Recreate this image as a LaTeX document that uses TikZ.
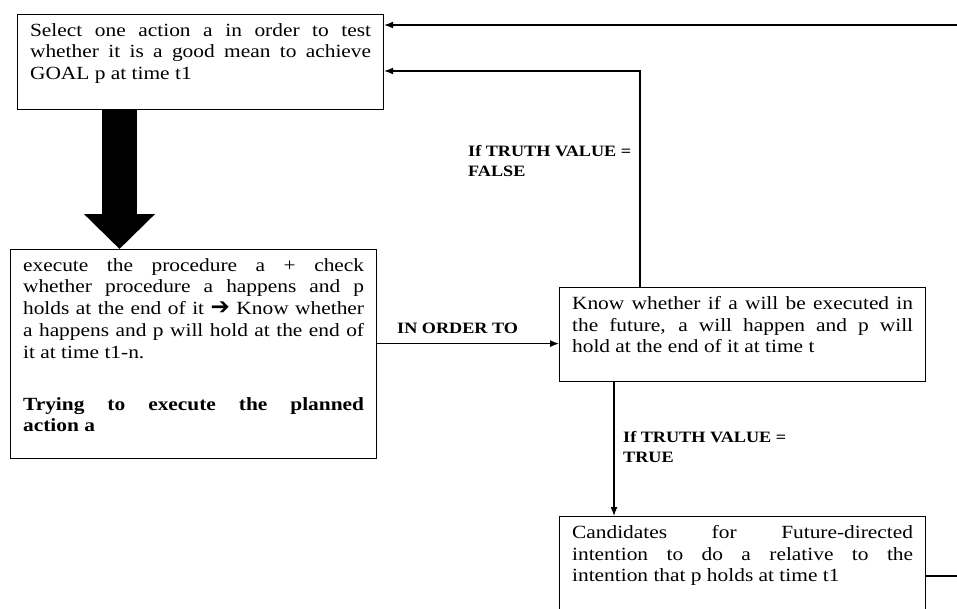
\documentclass[tikz,border=0pt]{standalone}
\usepackage{fontspec}
\setmainfont{Liberation Serif}[FakeStretch=1.15]
\newfontfamily\dingfont{DejaVu Sans}
\usetikzlibrary{arrows.meta}
\newcommand{\boxtext}[2]{\parbox[t][#1][t]{341pt}{\hyphenpenalty=10000\exhyphenpenalty=10000 #2}}
\hbadness=10000

\begin{document}
\begin{tikzpicture}[x=1pt,y=-1pt,
		stepbox/.style={draw,line width=1.2pt,anchor=north west,inner xsep=12.5pt,inner ysep=8.5pt,font=\fontsize{18.6}{21.8}\selectfont},
		cond/.style={anchor=north west,inner sep=0pt,align=left,font=\fontsize{15.8}{20.5}\selectfont\bfseries},
		flow/.style={line width=1.2pt,->,-{Latex[length=9pt,width=7pt]}}]
			\useasboundingbox (0,0) rectangle (957,608);
			\node[stepbox] at (17,14) (select) {\boxtext{78pt}{Select one action a in order to test\linebreak whether it is a good mean to achieve\linebreak GOAL p at time t1}};
			\node[stepbox] at (10,249) (execute) {\boxtext{192pt}{execute the procedure a + check\linebreak whether procedure a happens and p\linebreak holds at the end of it {\dingfont\bfseries\fontsize{23}{21.8}\selectfont ➔} Know whether\linebreak a happens and p will hold at the end of\linebreak it at time t1-n.\par\vspace{30pt}{\bfseries Trying to execute the planned\linebreak action a}}};
			\node[stepbox] at (559,287) (know) {\boxtext{77pt}{Know whether if a will be executed in\linebreak the future, a will happen and p will\linebreak hold at the end of it at time t}};
			\node[stepbox] at (559,516) (cand) {\boxtext{87pt}{Candidates for Future-directed\linebreak intention to do a relative to the\linebreak intention that p holds at time t1}};
			\node[cond,anchor=base west] at (397,333) (inorder) {IN ORDER TO};
			\node[cond] at (468,145) (iffalse) {If TRUTH VALUE =\\FALSE};
			\node[cond] at (623,431) (iftrue) {If TRUTH VALUE =\\TRUE};
			\coordinate (bigx) at (119.5,0);
			\coordinate (falsebend) at (640,71);
			\coordinate (trueline) at (614,0);
			\coordinate (edgetop) at (957,25);
			\coordinate (edgelow) at (957,576);
			\draw[line width=35pt,-{Triangle[length=35pt,width=69pt]}] (select.south -| bigx) -- (execute.north -| bigx);
			\draw[flow] ([yshift=-9pt]know.west -| execute.east) -- ([yshift=-9pt]know.west);
			\draw[flow] (know.north -| falsebend) -- (falsebend) -- (falsebend -| select.east);
			\draw[flow] (know.south -| trueline) -- (cand.north -| trueline);
			\draw[line width=1.2pt] (cand.east |- edgelow) -- (edgelow);
			\draw[flow] (edgetop) -- (edgetop -| select.east);
		\end{tikzpicture}
\end{document}
